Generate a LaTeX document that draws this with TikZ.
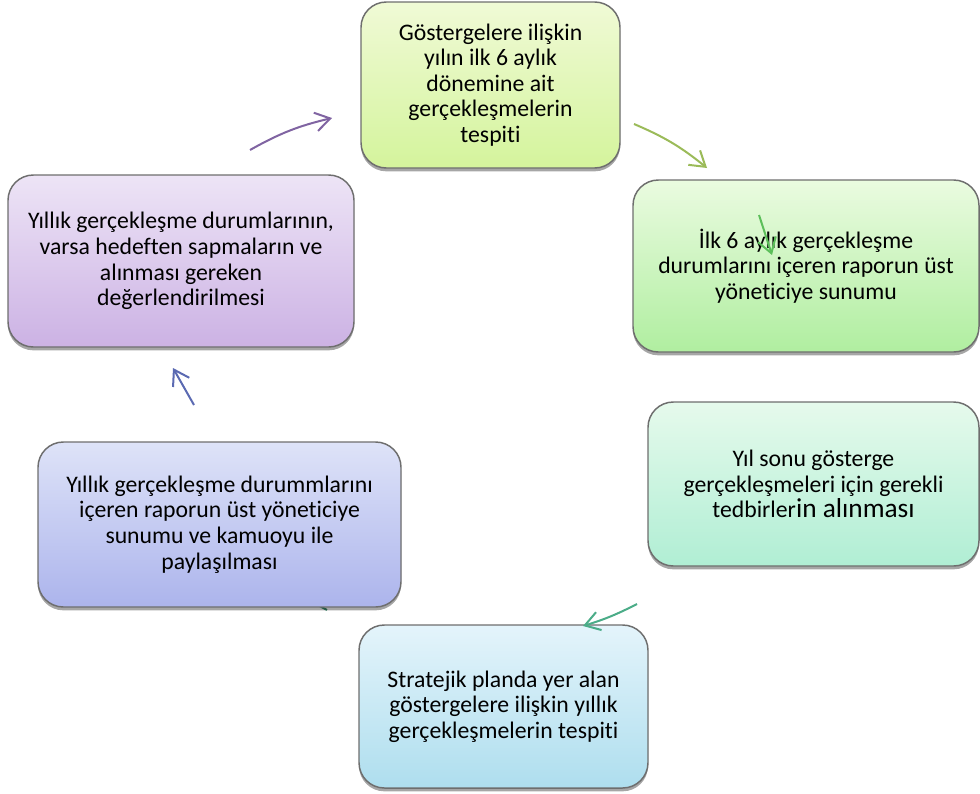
\documentclass[tikz,border=0pt]{standalone}
\usepackage{fontspec}
\setmainfont{Carlito}[Ligatures={NoCommon,NoRequired}]
\usetikzlibrary{arrows.meta,shadows}
\definecolor{kenar}{HTML}{6E6E6E}
\definecolor{mor}{HTML}{8064A2}
\definecolor{zeytin}{HTML}{9BBB59}
\definecolor{yesil}{HTML}{5CBF5A}
\definecolor{camgobek}{HTML}{4BAC88}
\definecolor{mavi}{HTML}{5B6AB2}
\tikzset{
  kutu/.style={draw=kenar, line width=1.1pt, rounded corners=19pt, align=center,
    inner sep=0pt, font=\fontsize{17.8}{19.2}\selectfont,
    drop shadow={shadow xshift=0pt, shadow yshift=-2.5pt, opacity=0.35, fill=black}},
  ok/.style={line width=1.5pt, -{Straight Barb[length=11pt,width=14pt]}}
}
\begin{document}
\begin{tikzpicture}[x=0.75pt, y=-0.75pt] % 1 birim = 1 piksel
	\useasboundingbox (0,0) rectangle (980,793);
		% Oklarin uclari
	\coordinate (o1a) at (250,150); \coordinate (o1b) at (332,118);
	\coordinate (o2a) at (634,124); \coordinate (o2b) at (707,168);
	\coordinate (o3a) at (759,215); \coordinate (o3b) at (772,255);
	\coordinate (o4a) at (637,604); \coordinate (o4b) at (583,626);
	\coordinate (o5a) at (194,405); \coordinate (o5b) at (173,368);
	\coordinate (o6a) at (316,604); \coordinate (o6b) at (327,610);
	\draw[line width=1.5pt, color=camgobek!80!black] (o6a) -- (o6b); % kutunun altinda kalan parca
		% Kutular
	\node[kutu, top color={rgb,255:red,240;green,250;blue,214}, bottom color={rgb,255:red,212;green,244;blue,156},
	  minimum width=194.25pt, minimum height=124.5pt] (ilk) at (490.5,85)
	  {Göstergelere ilişkin\\yılın ilk 6 aylık\\dönemine ait\\gerçekleşmelerin\\tespiti};
	\node[kutu, top color={rgb,255:red,234;green,251;blue,224}, bottom color={rgb,255:red,176;green,238;blue,160},
	  minimum width=259.5pt, minimum height=129pt] (sunum) at (806,266)
	  {İlk 6 aylık gerçekleşme\\durumlarını içeren raporun üst\\yöneticiye sunumu};
	\node[kutu, top color={rgb,255:red,230;green,250;blue,236}, bottom color={rgb,255:red,176;green,238;blue,212},
	  minimum width=248.25pt, minimum height=123pt] (tedbir) at (813.5,484)
	  {Yıl sonu gösterge\\gerçekleşmeleri için gerekli\\tedbirler{\fontsize{20.5}{19.2}\selectfont in alınması}};
	\node[kutu, top color={rgb,255:red,228;green,244;blue,251}, bottom color={rgb,255:red,174;green,222;blue,238},
	  minimum width=216.75pt, minimum height=122.25pt] (yillik) at (503.5,706.5)
	  {Stratejik planda yer alan\\göstergelere ilişkin yıllık\\gerçekleşmelerin tespiti};
	\node[kutu, top color={rgb,255:red,222;green,227;blue,248}, bottom color={rgb,255:red,172;green,180;blue,236},
	  minimum width=272.25pt, minimum height=123.75pt] (kamuoyu) at (219.5,524.5)
	  {Yıllık gerçekleşme durummlarını\\içeren raporun üst yöneticiye\\sunumu ve kamuoyu ile\\paylaşılması};
	\node[kutu, top color={rgb,255:red,237;green,228;blue,246}, bottom color={rgb,255:red,204;green,178;blue,228},
	  minimum width=259.5pt, minimum height=129pt] (deger) at (181,261)
	  {Yıllık gerçekleşme durumlarının,\\varsa hedeften sapmaların ve\\alınması gereken\\değerlendirilmesi};
		% Oklar
	\draw[ok, mor] (o1a) to[bend left=8] (o1b);
	\draw[ok, zeytin] (o2a) to[bend left=8] (o2b);
	\draw[ok, yesil] (o3a) -- (o3b); % kutunun ustunde kalan ok
	\draw[ok, camgobek] (o4a) to[bend left=5] (o4b);
	\draw[ok, mavi] (o5a) -- (o5b);
\end{tikzpicture}
\end{document}
